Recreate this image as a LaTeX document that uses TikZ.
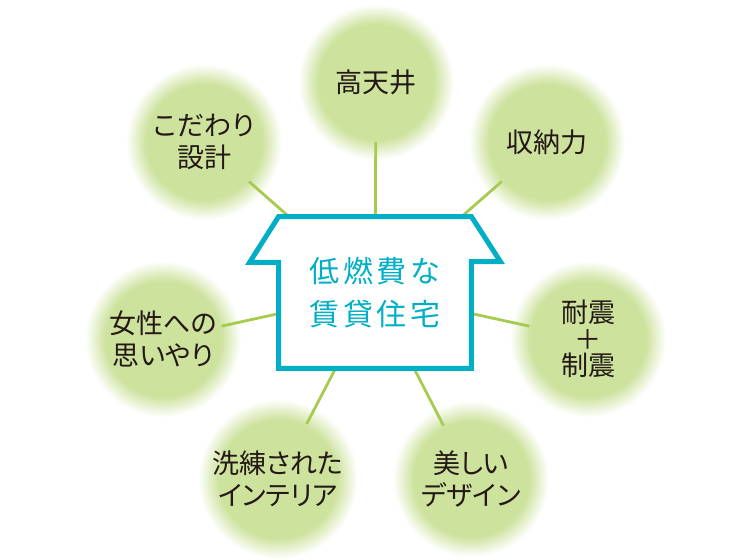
\documentclass[tikz,border=0pt]{standalone}
\usepackage{fontspec}
\setmainfont{Noto Sans CJK JP}[RawFeature=+palt]
\newfontfamily\homefont{Noto Sans CJK JP}[LetterSpace=12]
\usepackage{tikz}
\definecolor{homecyan}{HTML}{00AFC6}
\definecolor{leafgreen}{HTML}{CDE29D}
\definecolor{stemgreen}{HTML}{A6CB4E}
\definecolor{inkgray}{HTML}{231815}
\pgfdeclareradialshading{bubbleglow}{\pgfpoint{0bp}{0bp}}{%
    color(0bp)=(leafgreen); color(18.5bp)=(leafgreen);
    color(25bp)=(white); color(50bp)=(white)}
\tikzset{
    bubble/.style={circle, minimum size=78pt, outer sep=-9pt, shading=bubbleglow,
        text=inkgray, font=\fontsize{13.5}{16}\selectfont, align=center},
    stem/.style={stemgreen, line width=1.4pt},
    homebox/.style={rectangle, minimum width=96pt, minimum height=75.5pt,
        text=homecyan, font=\homefont\fontsize{15}{21.5}\selectfont, align=center},
    homewall/.style={homecyan, line width=2.5pt, line join=miter},
}

\begin{document}
\begin{tikzpicture}[x=0.5pt,y=0.5pt]
    \useasboundingbox (0,0) rectangle (750,560);
    \node[homebox] (home) at (375,267.5) {低燃費な\\賃貸住宅};
    \node[bubble] (ceiling) at (376,478) {高天井};
    \node[bubble] (storage) at (547,418) {収納力};
    \node[bubble] (quake) at (588,221) {耐震\\[-2.8pt]＋\\[-2.8pt]制震};
    \node[bubble] (design) at (471,81) {美しい\\デザイン};
    \node[bubble] (interior) at (278,81) {洗練された\\インテリア};
    \node[bubble] (women) at (163,221) {女性への\\思いやり};
    \node[bubble] (plan) at (204,418) {こだわり\\設計};
    % stems
    \draw[stem] (ceiling) -- (home);
    \draw[stem] (storage) -- (home);
    \draw[stem] (quake) -- (home);
    \draw[stem] (design) -- (home);
    \draw[stem] (interior) -- (home);
    \draw[stem] (women) -- (home);
    \draw[stem] (plan) -- (home);
    % house outline
    \draw[homewall] (home.south west) -- ++(0,106) -- ++(-29,0) -- (home.north west)
        -- (home.north east) -- ++(29,-45) -- ++(-29,0) -- (home.south east) -- cycle;
\end{tikzpicture}
\end{document}
